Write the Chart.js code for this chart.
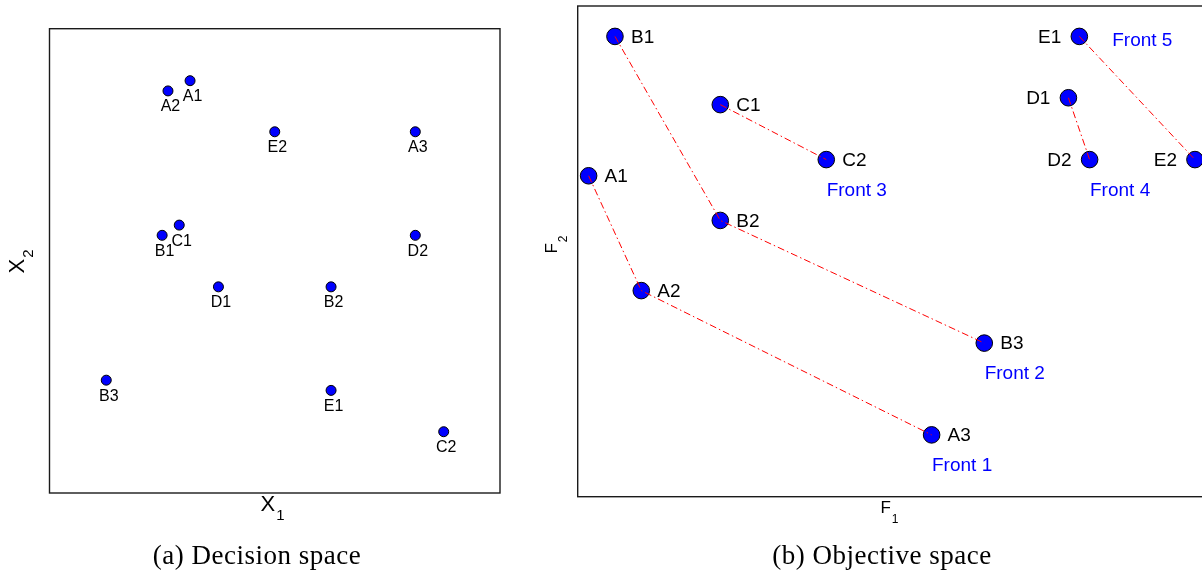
<!DOCTYPE html>
<html>
<head>
<meta charset="utf-8">
<script src="https://cdn.jsdelivr.net/npm/chart.js@4/dist/chart.umd.min.js"></script>
<style>
  html, body { margin: 0; padding: 0; background: #fff; }
  body { width: 1202px; height: 575px; overflow: hidden; position: relative; }
  .panel { position: absolute; top: 0; }
  .caption {
    position: absolute; top: 539px; width: 400px; text-align: center;
    font-family: "Liberation Serif", "DejaVu Serif", serif; font-size: 27px; color: #000;
    letter-spacing: 0.5px; line-height: 32px; white-space: nowrap;
  }
</style>
</head>
<body>
<div class="panel" style="left:0;width:530px;height:575px"><canvas id="decision" width="530" height="575"></canvas></div>
<div class="panel" style="left:530px;width:730px;height:575px"><canvas id="objective" width="730" height="575"></canvas></div>
<div class="caption" style="left:57px">(a) Decision space</div>
<div class="caption" style="left:682px">(b) Objective space</div>
<script>
// Solution names shared by both panels
const names = ['A1', 'A2', 'A3', 'B1', 'B2', 'B3', 'C1', 'C2', 'D1', 'D2', 'E1', 'E2'];

// Decision space coordinates (x1, x2)
const decisionX1 = [3.12, 2.63, 8.12, 2.50, 6.25, 1.26, 2.88, 8.75, 3.75, 8.12, 6.25, 5.00];
const decisionX2 = [8.88, 8.66, 7.78, 5.55, 4.44, 2.43, 5.77, 1.32, 4.44, 5.55, 2.21, 7.78];

// Objective space coordinates (f1, f2)
const objectiveF1 = [0.17, 0.99, 5.51, 0.58, 2.22, 6.33, 2.22, 3.87, 7.64, 7.97, 7.81, 9.61];
const objectiveF2 = [6.54, 4.20, 1.26, 9.38, 5.63, 3.13, 7.99, 6.87, 8.13, 6.87, 9.38, 6.87];

// Non-dominated fronts, each listed as a chain of solutions
const fronts = [['A1', 'A2', 'A3'], ['B1', 'B2', 'B3'], ['C1', 'C2'], ['D1', 'D2'], ['E1', 'E2']];
const frontNames = ['Front 1', 'Front 2', 'Front 3', 'Front 4', 'Front 5'];
// The solution each front caption is attached to
const frontAnchors = ['A3', 'B3', 'C2', 'D2', 'E1'];

const SANS = '"Liberation Sans", Arial, Helvetica, sans-serif';

function pointsOf(xs, ys) {
  return names.map((n, i) => ({ x: xs[i], y: ys[i] }));
}

// Draws "main" with a lowered subscript; optionally rotated by -90 degrees
function drawSubscripted(ctx, cx, cy, main, sub, size, subSize, subDrop, rotated) {
  ctx.save();
  ctx.translate(cx, cy);
  if (rotated) ctx.rotate(-Math.PI / 2);
  ctx.fillStyle = '#000';
  ctx.textBaseline = 'middle';
  ctx.font = size + 'px ' + SANS;
  const wMain = ctx.measureText(main).width;
  ctx.font = subSize + 'px ' + SANS;
  const wSub = ctx.measureText(sub).width;
  const start = -(wMain + wSub) / 2;
  ctx.font = size + 'px ' + SANS;
  ctx.textAlign = 'left';
  ctx.fillText(main, start, 0);
  ctx.font = subSize + 'px ' + SANS;
  ctx.fillText(sub, start + wMain + 1, subDrop);
  ctx.restore();
}

// Box around the plotting area
const framePlugin = {
  id: 'frame',
  beforeDatasetsDraw(chart) {
    const a = chart.chartArea, ctx = chart.ctx;
    ctx.save();
    ctx.strokeStyle = '#1a1a1a';
    ctx.lineWidth = 1.4;
    ctx.strokeRect(a.left, a.top, a.right - a.left, a.bottom - a.top);
    ctx.restore();
  }
};

// Text next to each solution marker, plus axis titles
const namesPlugin = {
  id: 'names',
  afterDatasetsDraw(chart, args, opts) {
    const ctx = chart.ctx;
    const meta = chart.getDatasetMeta(opts.datasetIndex);
    ctx.save();
    ctx.font = opts.size + 'px ' + SANS;
    ctx.fillStyle = '#000';
    meta.data.forEach((el, i) => {
      const n = names[i];
      const place = opts.place(n);
      if (place === 'below') {
        ctx.textAlign = 'center'; ctx.textBaseline = 'middle';
        ctx.fillText(n, el.x + 2.5, el.y + 16);
      } else if (place === 'right') {
        ctx.textAlign = 'left'; ctx.textBaseline = 'middle';
        ctx.fillText(n, el.x + 16, el.y + 1);
      } else {
        ctx.textAlign = 'right'; ctx.textBaseline = 'middle';
        ctx.fillText(n, el.x - 18, el.y + 1);
      }
    });
    if (opts.fronts) {
      ctx.fillStyle = '#0000ff';
      ctx.font = opts.frontSize + 'px ' + SANS;
      ctx.textAlign = 'center'; ctx.textBaseline = 'middle';
      frontNames.forEach((label, k) => {
        const el = meta.data[names.indexOf(frontAnchors[k])];
        if (k === 4) ctx.fillText(label, el.x + 63, el.y + 4);
        else ctx.fillText(label, el.x + 30.5, el.y + 31);
      });
    }
    ctx.restore();
    const t = opts.titles;
    drawSubscripted(ctx, t.x[0], t.x[1], t.x[2], t.x[3], t.size, t.subSize, t.drop, false);
    drawSubscripted(ctx, t.y[0], t.y[1], t.y[2], t.y[3], t.size, t.subSize, t.drop, true);
  }
};

const hiddenScale = { type: 'linear', display: false, min: 0, max: 10 };

new Chart(document.getElementById('decision'), {
  type: 'scatter',
  data: {
    datasets: [{
      data: pointsOf(decisionX1, decisionX2),
      pointRadius: 5,
      pointBackgroundColor: '#0000ff',
      pointBorderColor: '#000',
      pointBorderWidth: 1,
      clip: false
    }]
  },
  options: {
    responsive: false,
    devicePixelRatio: 1,
    animation: false,
    events: [],
    layout: { autoPadding: false, padding: { left: 49.5, top: 28.7, right: 30, bottom: 82 } },
    scales: { x: hiddenScale, y: hiddenScale },
    plugins: {
      legend: { display: false },
      tooltip: { enabled: false },
      names: {
        datasetIndex: 0,
        size: 16,
        place: () => 'below',
        titles: { x: [272, 505, 'X', '1'], y: [18, 262, 'X', '2'], size: 22, subSize: 15, drop: 11 }
      }
    }
  },
  plugins: [framePlugin, namesPlugin]
});

// One dash-dot line per front, drawn above the markers
const frontLines = fronts.map(chain => ({
  type: 'line',
  data: chain.map(n => ({ x: objectiveF1[names.indexOf(n)], y: objectiveF2[names.indexOf(n)] })),
  borderColor: '#ff0000',
  borderWidth: 1,
  borderDash: [7, 3, 1.5, 3],
  pointRadius: 0,
  fill: false,
  tension: 0,
  order: 1,
  clip: false
}));

new Chart(document.getElementById('objective'), {
  type: 'scatter',
  data: {
    datasets: [{
      data: pointsOf(objectiveF1, objectiveF2),
      pointRadius: 8.3,
      pointBackgroundColor: '#0000ff',
      pointBorderColor: '#000',
      pointBorderWidth: 1,
      order: 2,
      clip: false
    }].concat(frontLines)
  },
  options: {
    responsive: false,
    devicePixelRatio: 1,
    animation: false,
    events: [],
    layout: { autoPadding: false, padding: { left: 47.7, top: 6, right: 40, bottom: 78.3 } },
    scales: { x: hiddenScale, y: hiddenScale },
    plugins: {
      legend: { display: false },
      tooltip: { enabled: false },
      names: {
        datasetIndex: 0,
        size: 19,
        frontSize: 19,
        fronts: true,
        place: n => (n[0] === 'D' || n[0] === 'E') ? 'left' : 'right',
        titles: { x: [359, 508, 'F', '1'], y: [22, 245, 'F', '2'], size: 17, subSize: 12, drop: 12 }
      }
    }
  },
  plugins: [framePlugin, namesPlugin]
});
</script>
</body>
</html>
